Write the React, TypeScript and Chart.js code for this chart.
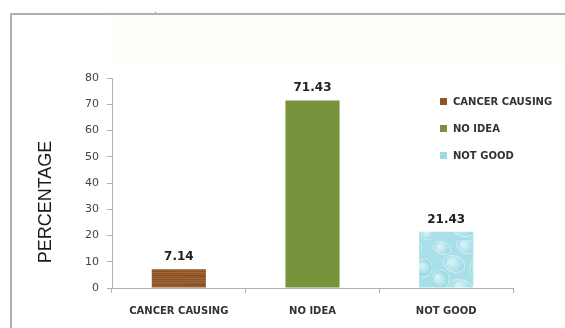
import React, { useEffect, useRef } from "react";
import { Chart, registerables } from "chart.js";

Chart.register(...registerables);

const categories = ["CANCER CAUSING", "NO IDEA", "NOT GOOD"];
const values = [7.14, 71.43, 21.43];
const valueLabels = ["7.14", "71.43", "21.43"];
const yTicks = [0, 10, 20, 30, 40, 50, 60, 70, 80];
const yTitle = "PERCENTAGE";

const LABEL_FONT = "bold 10px 'DejaVu Sans', sans-serif";

function makeWood(): CanvasPattern | string {
  const c = document.createElement("canvas");
  c.width = 60;
  c.height = 20;
  const g = c.getContext("2d");
  if (!g) return "#8f5524";
  g.fillStyle = "#93582a";
  g.fillRect(0, 0, 60, 20);
  const shades = ["#a86a34", "#8a5224", "#b07440", "#8e5622", "#9c6030", "#80481c", "#a46a38", "#8a5226", "#b27a46", "#84501f"];
  for (let i = 0; i < 20; i++) {
    g.fillStyle = shades[i % shades.length];
    g.globalAlpha = 0.5;
    g.fillRect(0, i, 60, 1);
  }
  g.globalAlpha = 0.2;
  g.fillStyle = "#5e3412";
  g.fillRect(8, 4, 24, 1);
  g.fillRect(30, 11, 22, 1);
  g.fillRect(4, 16, 30, 1);
  g.globalAlpha = 1;
  return g.createPattern(c, "repeat") || "#8f5524";
}

function makeWater(): CanvasPattern | string {
  const c = document.createElement("canvas");
  c.width = 54;
  c.height = 60;
  const g = c.getContext("2d");
  if (!g) return "#a6dce8";
  g.fillStyle = "#a9dfe9";
  g.fillRect(0, 0, 54, 60);
  const blobs = [
    [10, 8, 9, 6], [34, 6, 10, 7], [22, 24, 11, 8], [46, 28, 8, 9], [8, 40, 9, 10], [30, 48, 12, 8], [50, 54, 7, 6],
  ];
  blobs.forEach(([x, y, rx, ry]) => {
    const grd = g.createRadialGradient(x - rx * 0.3, y - ry * 0.3, 1, x, y, rx);
    grd.addColorStop(0, "#d6f2f7");
    grd.addColorStop(0.6, "#b2e3ec");
    grd.addColorStop(1, "#94d4e1");
    g.fillStyle = grd;
    g.beginPath();
    g.ellipse(x, y, rx, ry, 0.4, 0, Math.PI * 2);
    g.fill();
    g.strokeStyle = "rgba(230,248,252,0.7)";
    g.lineWidth = 1;
    g.stroke();
  });
  return g.createPattern(c, "repeat") || "#a6dce8";
}

export default function App() {
  const ref = useRef<HTMLCanvasElement | null>(null);

  useEffect(() => {
    document.body.style.margin = "0";
    const canvas = ref.current;
    if (!canvas) return;
    const fills = [makeWood(), "#77933c", makeWater()];
    const legendColors = ["#8f5524", "#77933c", "#9fd9e6"];

    const decor = {
      id: "decor",
      beforeDraw(chart: any) {
        const ctx = chart.ctx;
        ctx.save();
        ctx.fillStyle = "#ffffff";
        ctx.fillRect(0, 0, chart.width, chart.height);
        ctx.fillStyle = "#fefef8";
        ctx.fillRect(110, 15, chart.width - 110, 51);
        ctx.fillStyle = "#b0b0b0";
        ctx.fillRect(10, 13, chart.width - 10, 2);
        ctx.fillRect(10, 13, 2, chart.height - 13);
        ctx.fillStyle = "#b060c0";
        ctx.fillRect(155, 12, 1, 1);
        ctx.restore();
      },
      afterDraw(chart: any) {
        const ctx = chart.ctx;
        ctx.save();
        ctx.fillStyle = "#1a1a1a";
        ctx.font = "18px 'Liberation Sans', Arial, sans-serif";
        ctx.textAlign = "center";
        ctx.textBaseline = "middle";
        ctx.translate(46, 202);
        ctx.rotate(-Math.PI / 2);
        ctx.fillText(yTitle, 0, 0);
        ctx.restore();

        ctx.save();
        const meta = chart.getDatasetMeta(0);
        ctx.fillStyle = "#222";
        ctx.font = "bold 12px 'DejaVu Sans', sans-serif";
        ctx.textAlign = "center";
        ctx.textBaseline = "alphabetic";
        meta.data.forEach((bar: any, i: number) => {
          ctx.fillText(valueLabels[i], bar.x, bar.y - 9);
        });
        ctx.restore();

        ctx.save();
        ctx.font = LABEL_FONT;
        ctx.textBaseline = "middle";
        ctx.textAlign = "left";
        categories.forEach((c, i) => {
          const y = 102 + i * 27;
          ctx.fillStyle = legendColors[i];
          ctx.fillRect(440, y - 4, 7, 7);
          ctx.fillStyle = "#333";
          ctx.fillText(c, 453, y);
        });
        ctx.restore();
      },
    };

    const chart = new Chart(canvas, {
      type: "bar",
      data: {
        labels: categories,
        datasets: [
          {
            data: values,
            backgroundColor: fills as any,
            borderWidth: 0,
            categoryPercentage: 0.405,
            barPercentage: 1,
          },
        ],
      },
      options: {
        responsive: false,
        animation: false,
        layout: { padding: { left: 0, right: 52, top: 78, bottom: 0 } },
        plugins: { legend: { display: false }, tooltip: { enabled: false } },
        scales: {
          x: {
            grid: {
              display: true,
              drawOnChartArea: false,
              drawTicks: true,
              tickLength: 5,
              color: "#b0b0b0",
              offset: true,
            },
            border: { display: true, color: "#b0b0b0", width: 1 },
            ticks: {
              color: "#333",
              font: { family: "'DejaVu Sans', sans-serif", size: 10, weight: "bold" },
              padding: 12,
              maxRotation: 0,
              autoSkip: false,
            },
            afterFit(s: any) {
              s.height = 40;
            },
          },
          y: {
            min: 0,
            max: 80,
            afterBuildTicks(s: any) {
              s.ticks = yTicks.map((v) => ({ value: v }));
            },
            grid: {
              display: true,
              drawOnChartArea: false,
              drawTicks: true,
              tickLength: 5,
              color: "#b0b0b0",
            },
            border: { display: true, color: "#b0b0b0", width: 1 },
            ticks: {
              color: "#444",
              font: { family: "'DejaVu Sans', sans-serif", size: 11 },
              padding: 8,
            },
            afterFit(s: any) {
              s.width = 112;
            },
          },
        },
      },
      plugins: [decor],
    });
    return () => chart.destroy();
  }, []);

  return (
    <div style={{ width: 565, height: 328 }}>
      <canvas ref={ref} width={565} height={328} style={{ display: "block" }} />
    </div>
  );
}
